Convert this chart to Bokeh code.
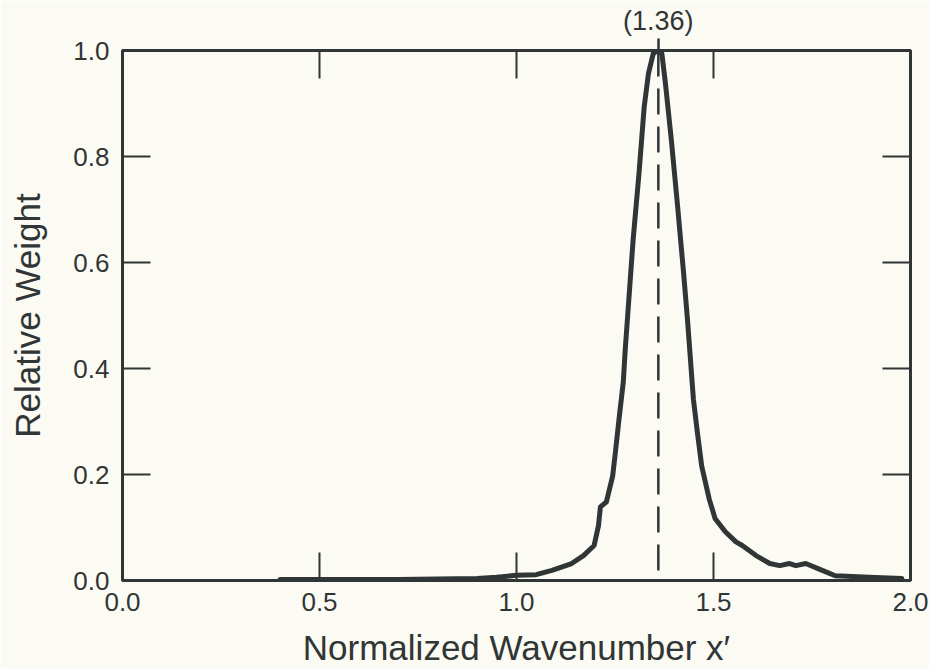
from bokeh.plotting import figure
from bokeh.models import LinearAxis, FixedTicker, Span, Range1d
from bokeh.embed import file_html
from bokeh.resources import INLINE

# Data
wavenumber = [0.40, 0.50, 0.60, 0.70, 0.80, 0.90, 0.95, 1.00, 1.05, 1.09,
              1.14, 1.17, 1.197, 1.208, 1.213, 1.228, 1.244, 1.251, 1.261, 1.271,
              1.276, 1.282, 1.296, 1.311, 1.324, 1.335, 1.347, 1.357, 1.369, 1.378,
              1.393, 1.409, 1.424, 1.434, 1.449, 1.459, 1.470, 1.489, 1.504, 1.530,
              1.557, 1.573, 1.608, 1.643, 1.668, 1.693, 1.709, 1.734, 1.776, 1.809,
              1.895, 1.978]
weight = [0.002, 0.002, 0.002, 0.002, 0.003, 0.004, 0.006, 0.010, 0.011, 0.019,
          0.032, 0.047, 0.066, 0.103, 0.139, 0.148, 0.197, 0.242, 0.310, 0.374,
          0.436, 0.498, 0.643, 0.769, 0.893, 0.957, 0.994, 1.000, 0.994, 0.938,
          0.831, 0.705, 0.581, 0.492, 0.342, 0.280, 0.216, 0.154, 0.117, 0.092,
          0.073, 0.066, 0.047, 0.032, 0.028, 0.032, 0.028, 0.032, 0.019, 0.009,
          0.006, 0.004]
peak_x = 1.36
peak_label = "(1.36)"
x_ticks = [0.0, 0.5, 1.0, 1.5, 2.0]
x_tick_labels = ["0.0", "0.5", "1.0", "1.5", "2.0"]
y_ticks = [0.0, 0.2, 0.4, 0.6, 0.8, 1.0]
y_tick_labels = ["0.0", "0.2", "0.4", "0.6", "0.8", "1.0"]
top_ticks = [0.5, 1.0, 1.5]
right_ticks = [0.2, 0.4, 0.6, 0.8]
x_title = "Normalized Wavenumber x\u2032"
y_title = "Relative Weight"

INK = "#303535"
BG = "#fbfbf3"
FONT = "Liberation Sans"

p = figure(width=929, height=669, output_backend="svg", toolbar_location=None,
           x_range=Range1d(0.0, 2.0), y_range=Range1d(0.0, 1.0),
           min_border_left=122, min_border_right=19, min_border_top=50,
           min_border_bottom=87)
p.background_fill_color = BG
p.border_fill_color = BG
p.outline_line_color = INK
p.outline_line_width = 3
p.grid.visible = False


def style_axis(ax, ticks, labels, tick_in=28, tick_out=0):
    ax.ticker = FixedTicker(ticks=ticks)
    ax.major_label_overrides = {t: s for t, s in zip(ticks, labels)}
    ax.major_tick_in = tick_in
    ax.major_tick_out = tick_out
    ax.minor_tick_in = 0
    ax.minor_tick_out = 0
    ax.major_tick_line_color = INK
    ax.major_tick_line_width = 2
    ax.axis_line_color = INK
    ax.axis_line_width = 3
    ax.major_label_text_font = FONT
    ax.major_label_text_color = INK
    ax.major_label_text_font_size = "26px"
    ax.major_label_text_line_height = 1.0
    ax.axis_label_text_font = FONT
    ax.axis_label_text_font_size = "35px"
    ax.axis_label_text_font_style = "normal"
    ax.axis_label_text_color = INK
    ax.axis_label_text_line_height = 1.0


xa = p.xaxis[0]
style_axis(xa, x_ticks, x_tick_labels)
xa.major_label_standoff = 12
xa.axis_label = x_title
xa.axis_label_standoff = 14
ya = p.yaxis[0]
style_axis(ya, y_ticks, y_tick_labels)
ya.major_label_standoff = 13
ya.axis_label = y_title
ya.axis_label_standoff = 23

# inward ticks along the top edge (no labels)
top = LinearAxis()
style_axis(top, top_ticks, ["" for _ in top_ticks])
top.major_label_text_font_size = "1px"
top.major_label_standoff = 0
p.add_layout(top, "above")

# peak marker above the frame: short outward tick with its value
peak_axis = LinearAxis()
style_axis(peak_axis, [peak_x], [peak_label], tick_in=0, tick_out=12)
peak_axis.axis_line_color = None
peak_axis.major_tick_line_width = 2.5
peak_axis.major_label_text_font_size = "27px"
peak_axis.major_label_standoff = 3
p.add_layout(peak_axis, "above")

# inward ticks along the right edge (no labels)
right = LinearAxis()
style_axis(right, right_ticks, ["" for _ in right_ticks])
right.major_label_text_font_size = "1px"
right.major_label_standoff = 0
p.add_layout(right, "right")

p.line(wavenumber, weight, line_color=INK, line_width=5, line_join="round", line_cap="round")

p.add_layout(Span(location=peak_x, dimension="height", line_color=INK,
                  line_width=2.5, line_dash="26 12"))

open("out.html", "w").write(file_html(p, INLINE))
